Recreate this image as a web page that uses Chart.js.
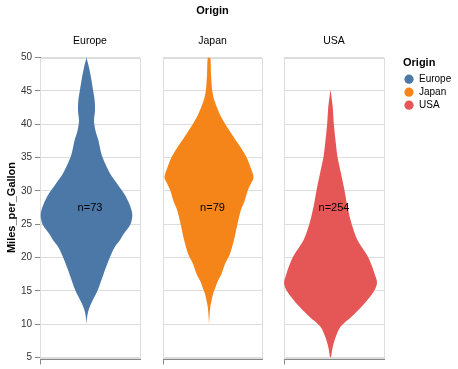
<!DOCTYPE html>
<html>
<head>
<meta charset="utf-8">
<script src="https://cdn.jsdelivr.net/npm/chart.js@4"></script>
<style>
  body { margin: 0; background: #fff; }
  #wrap { position: relative; width: 458px; height: 369px; }
  #wrap canvas { position: absolute; top: 0; }
</style>
</head>
<body>
<div id="wrap">
  <canvas id="c0" style="left:0px"></canvas>
  <canvas id="c1" style="left:150px"></canvas>
  <canvas id="c2" style="left:270px"></canvas>
</div>
<script>
const origins = ['Europe', 'Japan', 'USA'];
const counts = [73, 79, 254];
const colors = ['#4c78a8', '#f58518', '#e45756'];
const yTicks = [5, 10, 15, 20, 25, 30, 35, 40, 45, 50];

// density profile (half width)
const europeMpg = [10, 11, 11.8, 12.5, 13.5, 15, 17.5, 19.5, 21.5, 22.5, 23.5, 25, 26.5, 28, 29.5, 31, 32.5, 34, 35.5, 37.5, 39, 40.5, 42, 43.5, 45, 47, 48.5, 50];
const europeDensity = [0, 0.6, 1.5, 3, 6, 11, 17, 22, 28, 33, 37, 44, 45.8, 43, 38, 31, 24, 19, 15, 12, 9, 7.5, 8.5, 8.2, 6.7, 4.5, 2.5, 0];

const japanMpg = [10, 11, 12.5, 13.5, 14.5, 15.5, 16.5, 17.5, 19, 20.5, 22.5, 25, 27, 28.5, 30, 31, 32, 33.5, 35, 36.5, 38.5, 41, 43.5, 45, 47.5, 50];
const japanDensity = [0, 0.4, 1.2, 2.5, 4, 6.5, 9, 12.5, 16, 21, 25, 28.7, 32, 36, 39, 42, 45, 42, 38, 32, 23, 12.5, 5.5, 3.3, 2, 1.2];

const usaMpg = [5, 6.6, 8.1, 9.6, 11.1, 12.6, 14.6, 16.1, 17.6, 20.1, 22.6, 25.1, 27.6, 30.1, 32.6, 35.1, 37.6, 40.1, 42.6, 45.2];
const usaDensity = [0.5, 2.3, 5.3, 10, 21, 31, 42, 46.5, 44, 37.5, 27, 21, 17, 14, 10.5, 7, 5, 3.3, 2.2, 0];

const mpgByOrigin = [europeMpg, japanMpg, usaMpg];
const densityByOrigin = [europeDensity, japanDensity, usaDensity];

Chart.defaults.font.family = '"Liberation Sans", Arial, sans-serif';
Chart.defaults.color = '#333';

// closed outline: up the right side, down the left side
function violinPoints(mpg, dens) {
  const right = mpg.map((m, i) => ({x: dens[i], y: m}));
  const left = mpg.map((m, i) => ({x: -dens[i], y: m})).reverse();
  return right.concat(left);
}

const panelPlugin = {
  id: 'panel',
  beforeDatasetsDraw(chart) {
    const {ctx, chartArea: a} = chart;
    ctx.save();
    ctx.strokeStyle = '#ddd';
    ctx.lineWidth = 1;
    ctx.strokeRect(Math.round(a.left) + 0.5, Math.round(a.top) + 0.5, Math.round(a.right - a.left), Math.round(a.bottom - a.top));
    ctx.restore();
  },
  afterDraw(chart, args, opts) {
    const {ctx, chartArea: a} = chart;
    const cx = (a.left + a.right) / 2;
    ctx.save();
    // bottom band axis
    ctx.strokeStyle = '#888';
    ctx.lineWidth = 1;
    const by = Math.round(a.bottom) + 1.5;
    ctx.beginPath();
    ctx.moveTo(Math.round(a.left), by);
    ctx.lineTo(Math.round(a.right) + 1, by);
    ctx.moveTo(Math.round(a.left) + 0.5, by);
    ctx.lineTo(Math.round(a.left) + 0.5, by + 5);
    ctx.stroke();
    // facet header
    ctx.fillStyle = '#000';
    ctx.textAlign = 'center';
    ctx.textBaseline = 'middle';
    ctx.font = '10.5px "Liberation Sans", Arial, sans-serif';
    ctx.fillText(opts.header, cx, a.top - 16.5);
    // count label
    ctx.font = '11px "Liberation Sans", Arial, sans-serif';
    ctx.fillText('n=' + opts.count, cx, chart.scales.y.getPixelForValue(27.5));
    if (opts.facetTitle) {
      ctx.font = 'bold 11px "Liberation Sans", Arial, sans-serif';
      ctx.fillText(opts.facetTitle, cx, 10.7);
    }
    if (opts.legend) {
      const lx = a.right;
      ctx.textAlign = 'left';
      ctx.font = 'bold 11px "Liberation Sans", Arial, sans-serif';
      ctx.fillText('Origin', lx + 19, a.top + 5.2);
      ctx.font = '10px "Liberation Sans", Arial, sans-serif';
      origins.forEach((o, i) => {
        const y = a.top + 21.7 + i * 13;
        ctx.fillStyle = colors[i];
        ctx.beginPath();
        ctx.arc(lx + 25, y, 4.6, 0, Math.PI * 2);
        ctx.fill();
        ctx.fillStyle = '#000';
        ctx.fillText(o, lx + 35, y);
      });
    }
    ctx.restore();
  }
};

const canvasWidths = [150, 120, 188];
const pads = [{left: 0, right: 10}, {left: 13, right: 8}, {left: 14, right: 74}];

origins.forEach((origin, k) => {
  const el = document.getElementById('c' + k);
  el.width = canvasWidths[k];
  el.height = 369;
  el.style.width = canvasWidths[k] + 'px';
  el.style.height = '369px';
  const first = k === 0;
  new Chart(el, {
    type: 'scatter',
    data: {
      datasets: [{
        label: origin,
        data: violinPoints(mpgByOrigin[k], densityByOrigin[k]),
        showLine: true,
        fill: 'shape',
        backgroundColor: colors[k],
        borderColor: colors[k],
        borderWidth: 0,
        pointRadius: 0,
        pointHoverRadius: 0,
        tension: 0.3
      }]
    },
    options: {
      responsive: false,
      animation: false,
      events: [],
      layout: {padding: {left: pads[k].left, right: pads[k].right, top: 57.5, bottom: 11.5}},
      plugins: {
        legend: {display: false},
        tooltip: {enabled: false},
        panel: {
          header: origin,
          count: counts[k],
          facetTitle: k === 1 ? 'Origin' : null,
          legend: k === 2
        }
      },
      scales: {
        x: {type: 'linear', min: -46.5, max: 53.5, display: false},
        y: {
          type: 'linear',
          min: yTicks[0],
          max: yTicks[yTicks.length - 1],
          afterBuildTicks: s => { s.ticks = yTicks.map(v => ({value: v})); },
          afterFit: s => { s.width = first ? 40 : 0; },
          grid: {color: '#ddd', tickColor: '#888', tickLength: 5, drawTicks: first},
          border: {display: first, color: '#888'},
          ticks: {display: first, font: {size: 10}, color: '#333', padding: 3},
          title: {
            display: first,
            text: 'Miles_per_Gallon',
            color: '#000',
            font: {size: 11, weight: 'bold'},
            padding: {top: 5, bottom: 0}
          }
        }
      }
    },
    plugins: [panelPlugin]
  });
});
</script>
</body>
</html>
